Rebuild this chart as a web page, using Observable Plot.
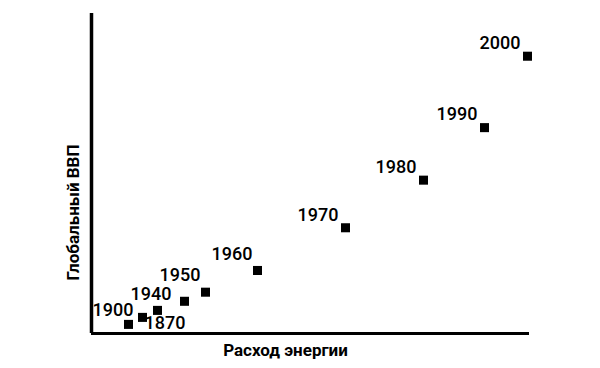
<!DOCTYPE html>
<html>
<head>
<meta charset="utf-8">
<script src="https://cdn.jsdelivr.net/npm/d3@7"></script>
<script src="https://cdn.jsdelivr.net/npm/@observablehq/plot@0.6"></script>
<style>
  html, body { margin: 0; padding: 0; background: #fff; }
  #chart svg { display: block; }
</style>
</head>
<body>
<div id="chart"></div>
<script>
// Data (arbitrary units)
const years  = [1870, 1900, 1913, 1940, 1950, 1960, 1970, 1980, 1990, 2000];
const labels = ["1870", "1900", "", "1940", "1950", "1960", "1970", "1980", "1990", "2000"];
const energy = [37, 51, 66, 93, 114, 166, 254, 332, 393, 436];
const gdp    = [1.3, 2.3, 3.3, 4.6, 5.9, 9.0, 15.1, 21.9, 29.4, 39.6];
const xTitle = "Расход энергии";
const yTitle = "Глобальный ВВП";

const data = years.map((y, i) => ({year: y, label: labels[i], energy: energy[i], gdp: gdp[i]}));

const font = "Roboto, 'Liberation Sans', Arial, sans-serif";
const lab = {x: "energy", y: "gdp", text: "label", fontSize: 18, fontWeight: 500, fill: "#000"};

const chart = Plot.plot({
  width: 600,
  height: 368,
  marginLeft: 91,
  marginRight: 71,
  marginTop: 13,
  marginBottom: 35,
  style: {fontFamily: font, background: "#fff", color: "#000"},
  x: {domain: [0, 438], axis: null},
  y: {domain: [0, 45.7], axis: null},
  marks: [
    Plot.ruleY([0], {stroke: "#000", strokeWidth: 3}),
    Plot.ruleX([0], {stroke: "#000", strokeWidth: 3.5}),
    Plot.dot(data, {x: "energy", y: "gdp", symbol: "square", r: 5.1, fill: "#000", stroke: "none"}),
    Plot.text(data.filter(d => d.year >= 1970), {...lab, textAnchor: "end", dx: -7, dy: -13}),
    Plot.text(data.filter(d => d.year === 1950 || d.year === 1960), {...lab, textAnchor: "end", dx: -5, dy: -16.5}),
    Plot.text(data.filter(d => d.label === "1940"), {...lab, textAnchor: "end", dx: -13, dy: -7}),
    Plot.text(data.filter(d => d.label === "1900"), {...lab, textAnchor: "end", dx: -9, dy: -7}),
    Plot.text(data.filter(d => d.label === "1870"), {...lab, textAnchor: "start", dx: 16, dy: -1}),
    Plot.text([xTitle], {frameAnchor: "bottom", text: d => d, textAnchor: "middle", lineAnchor: "middle", dx: -25, dy: 17, fontSize: 17, fontWeight: "bold", fill: "#000"}),
    Plot.text([yTitle], {frameAnchor: "left", text: d => d, rotate: -90, textAnchor: "middle", lineAnchor: "middle", dx: -18, dy: 39, fontSize: 17, fontWeight: "bold", fill: "#000"})
  ]
});
document.getElementById("chart").appendChild(chart);
</script>
</body>
</html>
